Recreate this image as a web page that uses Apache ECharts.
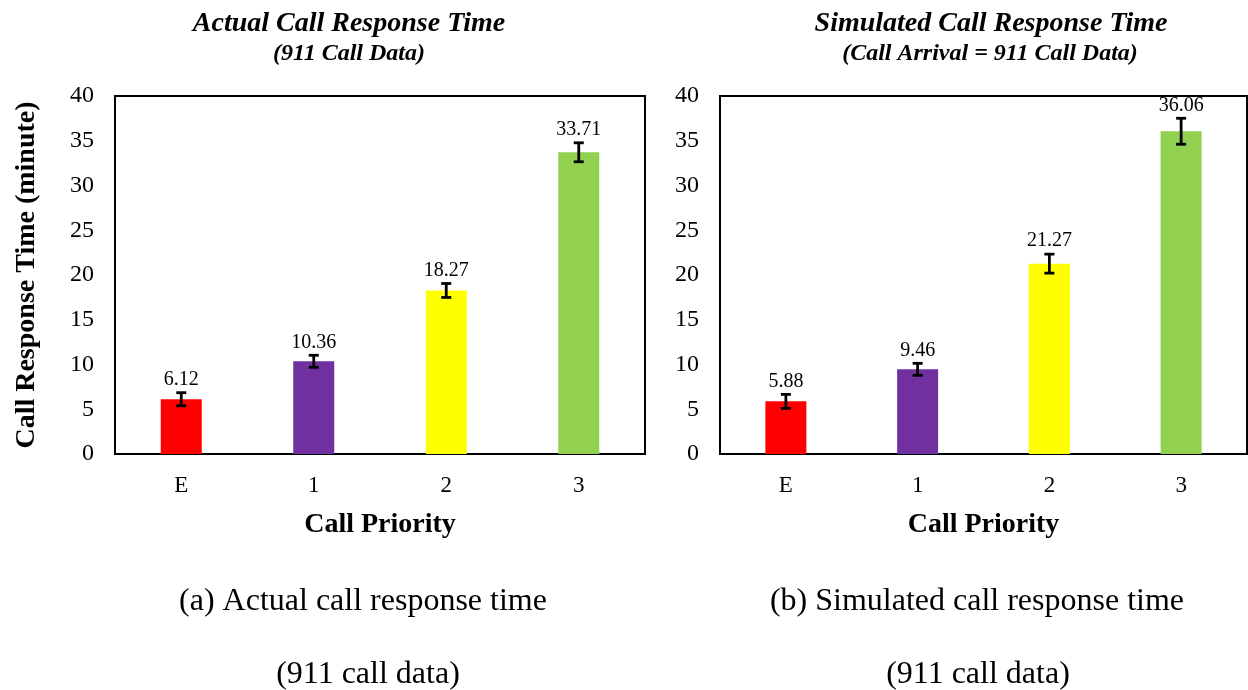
<!DOCTYPE html>
<html><head><meta charset="utf-8">
<script src="https://cdn.jsdelivr.net/npm/echarts@6/dist/echarts.min.js"></script>
<style>html,body{margin:0;padding:0;background:#fff}#c{width:1248px;height:690px}</style>
</head><body><div id="c"></div>
<script>
const categories = ['E', '1', '2', '3'];
const actualValues = [6.12, 10.36, 18.27, 33.71];
const actualErrors = [0.73, 0.67, 0.78, 1.06];
const simValues = [5.88, 9.46, 21.27, 36.06];
const simErrors = [0.78, 0.67, 1.06, 1.45];
const barColors = ['#FF0000', '#7030A0', '#FFFF00', '#92D050'];
const yTicks = [0, 5, 10, 15, 20, 25, 30, 35, 40];

const F = '"Liberation Serif","Times New Roman",serif';
const chart = echarts.init(document.getElementById('c'));

function errData(vals, errs) {
  return vals.map((v, i) => [i, v, errs[i]]);
}
function errRender(params, api) {
  const x = api.value(0), v = api.value(1), e = api.value(2);
  const hi = api.coord([x, v + e]);
  const lo = api.coord([x, v - e]);
  const cap = 5;
  const st = { stroke: '#000', lineWidth: 2.8 };
  return {
    type: 'group',
    children: [
      { type: 'line', shape: { x1: hi[0], y1: hi[1], x2: lo[0], y2: lo[1] }, style: st },
      { type: 'line', shape: { x1: hi[0] - cap, y1: hi[1], x2: hi[0] + cap, y2: hi[1] }, style: st },
      { type: 'line', shape: { x1: lo[0] - cap, y1: lo[1], x2: lo[0] + cap, y2: lo[1] }, style: st },
      { type: 'text', style: { text: v.toFixed(2), x: hi[0], y: hi[1] - 3, textAlign: 'center', textVerticalAlign: 'bottom', font: '20px ' + F, fill: '#000' } }
    ]
  };
}

const grids = [
  { left: 115, width: 530, top: 96, height: 358, show: true, borderColor: '#000', borderWidth: 2 },
  { left: 720, width: 527, top: 96, height: 358, show: true, borderColor: '#000', borderWidth: 2 }
];
function xAx(i) {
  return {
    type: 'category', gridIndex: i, data: categories,
    axisLine: { show: true, lineStyle: { color: '#000', width: 2 } },
    axisTick: { show: false },
    axisLabel: { color: '#000', fontFamily: F, fontSize: 23, margin: 20 },
    name: 'Call Priority', nameLocation: 'middle', nameGap: 57,
    nameTextStyle: { color: '#000', fontFamily: F, fontSize: 28, fontWeight: 'bold' }
  };
}
function yAx(i) {
  const o = {
    type: 'value', gridIndex: i, min: 0, max: 40, interval: 5,
    axisLine: { show: true, lineStyle: { color: '#000', width: 2 } },
    axisTick: { show: false },
    splitLine: { show: false },
    axisLabel: { color: '#000', fontFamily: F, fontSize: 24, margin: 21,
      formatter: v => yTicks.includes(v) ? String(v) : '' }
  };
  if (i === 0) {
    o.name = 'Call Response Time (minute)';
    o.nameLocation = 'middle';
    o.nameGap = 74;
    o.nameTextStyle = { color: '#000', fontFamily: F, fontSize: 28, fontWeight: 'bold' };
  }
  return o;
}
function barData(vals) {
  return vals.map((v, i) => ({ value: v, itemStyle: { color: barColors[i] } }));
}
function txt(s, x, y, font) {
  return { type: 'text', x: x, y: y, style: { text: s, font: font, fill: '#000', textAlign: 'center', textVerticalAlign: 'middle' } };
}
const TF = 'italic bold 28px ' + F;
const SF = 'italic bold 24px ' + F;
const CF = '32px ' + F;

chart.setOption({
  animation: false,
  graphic: [
    txt('Actual Call Response Time', 349, 24, TF),
    txt('(911 Call Data)', 349, 54, SF),
    txt('Simulated Call Response Time', 991, 24, TF),
    txt('(Call Arrival = 911 Call Data)', 990, 54, SF),
    txt('(a) Actual call response time', 363, 602, CF),
    txt('(911 call data)', 368, 675, CF),
    txt('(b) Simulated call response time', 977, 602, CF),
    txt('(911 call data)', 978, 675, CF)
  ],
  grid: grids,
  xAxis: [xAx(0), xAx(1)],
  yAxis: [yAx(0), yAx(1)],
  series: [
    { type: 'bar', xAxisIndex: 0, yAxisIndex: 0, data: barData(actualValues), barWidth: 41 },
    { type: 'custom', xAxisIndex: 0, yAxisIndex: 0, data: errData(actualValues, actualErrors), renderItem: errRender, z: 10 },
    { type: 'bar', xAxisIndex: 1, yAxisIndex: 1, data: barData(simValues), barWidth: 41 },
    { type: 'custom', xAxisIndex: 1, yAxisIndex: 1, data: errData(simValues, simErrors), renderItem: errRender, z: 10 }
  ]
});
</script></body></html>
